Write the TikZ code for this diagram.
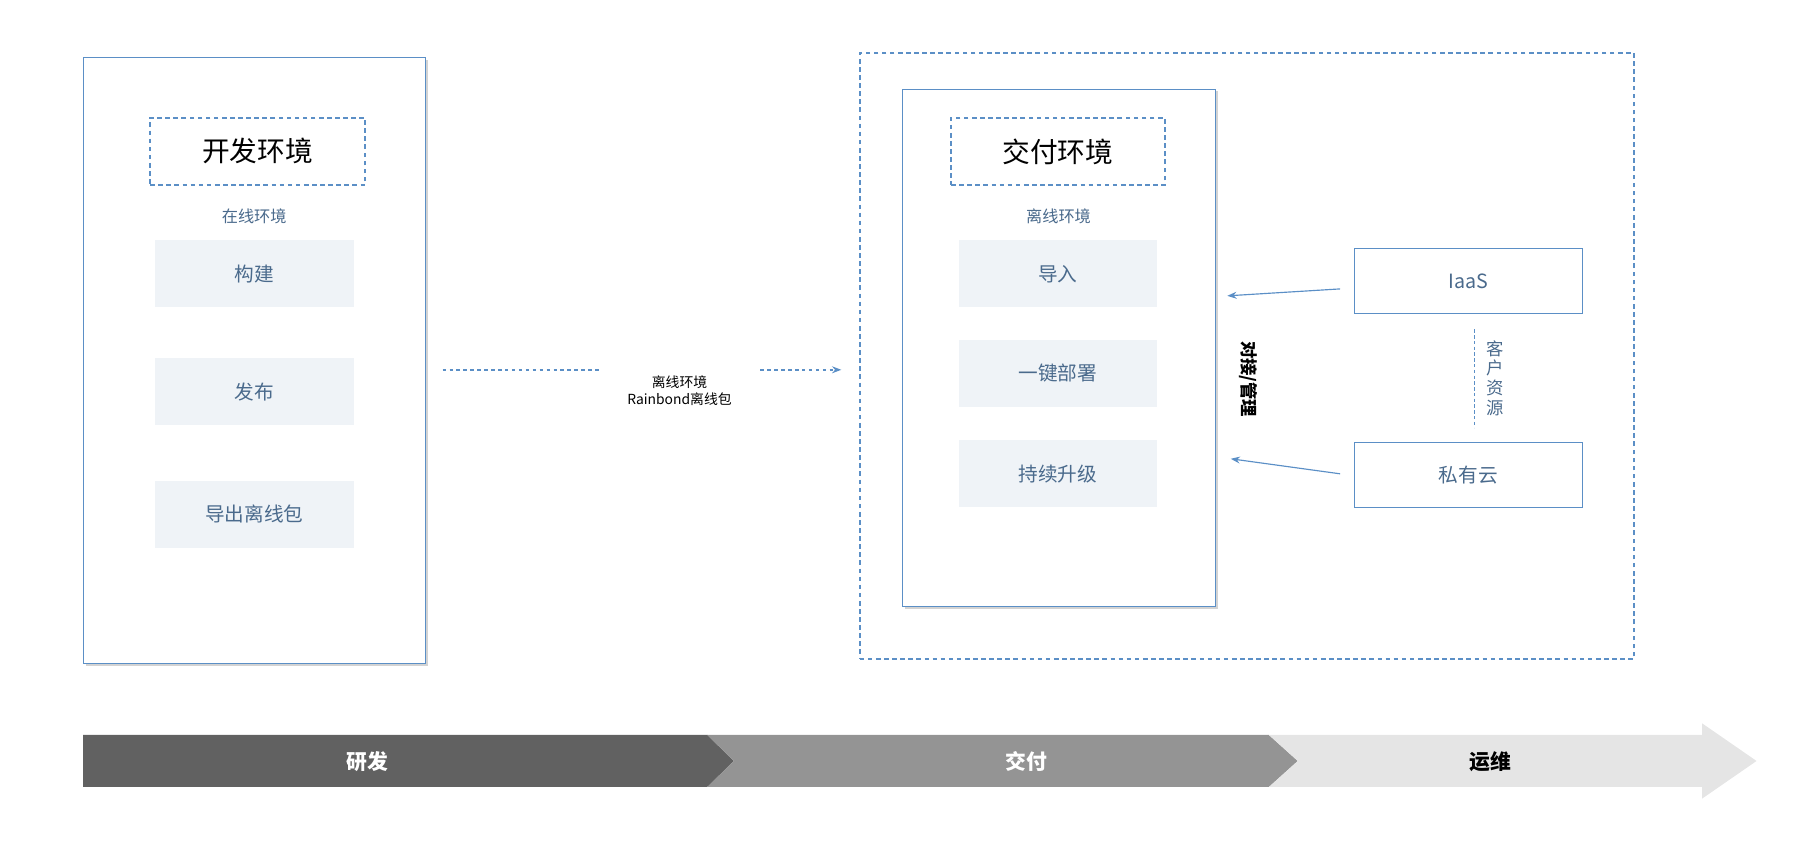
\documentclass[tikz,border=0pt]{standalone}
\usepackage{fontspec}
\setmainfont{Noto Sans CJK SC}
\usetikzlibrary{arrows.meta,shadows}
\definecolor{bl}{HTML}{5B8FC6}
\definecolor{tx}{HTML}{4A6A8C}
\definecolor{gb}{HTML}{EFF3F7}
\tikzset{
 panel/.style={draw=bl,line width=0.8pt,fill=white,drop shadow={shadow xshift=2pt,shadow yshift=-2pt,opacity=0.35}},
 dbox/.style={draw=bl,dashed,line width=1.6pt,dash pattern=on 4pt off 3pt},
 gbox/.style={fill=gb,text=tx,font=\fontsize{17}{20}\selectfont,inner sep=0},
 sbox/.style={draw=bl,line width=0.8pt,text=tx,font=\fontsize{17}{20}\selectfont},
}
\begin{document}
\begin{tikzpicture}[x=1pt,y=-1pt]
\useasboundingbox (0,0) rectangle (1568,739);
% left
\node[panel,minimum width=296pt,minimum height=524pt] (L) at (220,312) {};
\node[dbox,minimum width=186pt,minimum height=58pt,font=\fontsize{24}{28}\selectfont] (Lt) at (223,131) {开发环境};
\node[text=tx,font=\fontsize{14}{16}\selectfont] (Lo) at (220,187) {在线环境};
\node[gbox,minimum width=172pt,minimum height=58pt] (L1) at (220,237) {构建};
\node[gbox,minimum width=172pt,minimum height=58pt] (L2) at (220,339) {发布};
\node[gbox,minimum width=172pt,minimum height=58pt] (L3) at (220,445) {导出离线包};
% middle arrow
\node[font=\fontsize{12}{15}\selectfont,align=center] (M) at (588,338) {离线环境\\Rainbond离线包};
\coordinate (a1) at (383,320); \coordinate (a2) at (518,320);
\coordinate (a3) at (658,320); \coordinate (a4) at (728,320);
\draw[bl,line width=1.3pt,dash pattern=on 3pt off 3pt] (a1) -- (a2);
\draw[bl,line width=1.3pt,dash pattern=on 3pt off 3pt,-{Stealth[length=8pt]}] (a3) -- (a4);
% right big
\node[dbox,minimum width=670pt,minimum height=524pt] (R) at (1079,308) {};
\node[panel,minimum width=271pt,minimum height=448pt] (D) at (916.5,301) {};
\node[dbox,minimum width=185pt,minimum height=58pt,font=\fontsize{24}{28}\selectfont] (Dt) at (915.5,131) {交付环境};
\node[text=tx,font=\fontsize{14}{16}\selectfont] (Do) at (916,187) {离线环境};
\node[gbox,minimum width=171pt,minimum height=58pt] (D1) at (915.5,237) {导入};
\node[gbox,minimum width=171pt,minimum height=58pt] (D2) at (915.5,323) {一键部署};
\node[gbox,minimum width=171pt,minimum height=58pt] (D3) at (915.5,410) {持续升级};
\node[sbox,minimum width=197pt,minimum height=56pt] (I) at (1270.5,243) {IaaS};
\node[sbox,minimum width=197pt,minimum height=56pt] (P) at (1270.5,411) {私有云};
\coordinate (i2) at (1062,256); \coordinate (p2) at (1065,397);
\draw[bl,line width=1pt,-{Stealth[length=8pt]}] (I.west)++(-12,7) -- (i2);
\draw[bl,line width=1pt,-{Stealth[length=8pt]}] (P.west)++(-12,-1) -- (p2);
\node[font=\bfseries\fontsize{15}{17}\selectfont,rotate=-90] (J) at (1080,328) {对接/管理};
\coordinate (c1) at (1276,285); \coordinate (c2) at (1276,370);
\draw[bl,line width=1.2pt,dash pattern=on 3pt off 2pt] (c1) -- (c2);
\node[text=tx,font=\fontsize{15}{17}\selectfont,align=center,inner sep=0] (K) at (1294,327) {客\\户\\资\\源};
% bottom chevrons
\fill[black!62] (72,636) -- (612,636) -- (635,658.5) -- (612,681) -- (72,681) -- cycle;
\fill[black!42] (612,636) -- (1098,636) -- (1123,658.5) -- (1098,681) -- (612,681) -- (635,658.5) -- cycle;
\fill[black!10] (1098,636) -- (1473,636) -- (1473,626) -- (1520,658.5) -- (1473,691) -- (1473,681) -- (1098,681) -- (1123,658.5) -- cycle;
\node[white,font=\bfseries\fontsize{18}{20}\selectfont] (b1) at (318,659) {研发};
\node[white,font=\bfseries\fontsize{18}{20}\selectfont] (b2) at (888,659) {交付};
\node[font=\bfseries\fontsize{18}{20}\selectfont] (b3) at (1290,659) {运维};
\end{tikzpicture}
\end{document}
